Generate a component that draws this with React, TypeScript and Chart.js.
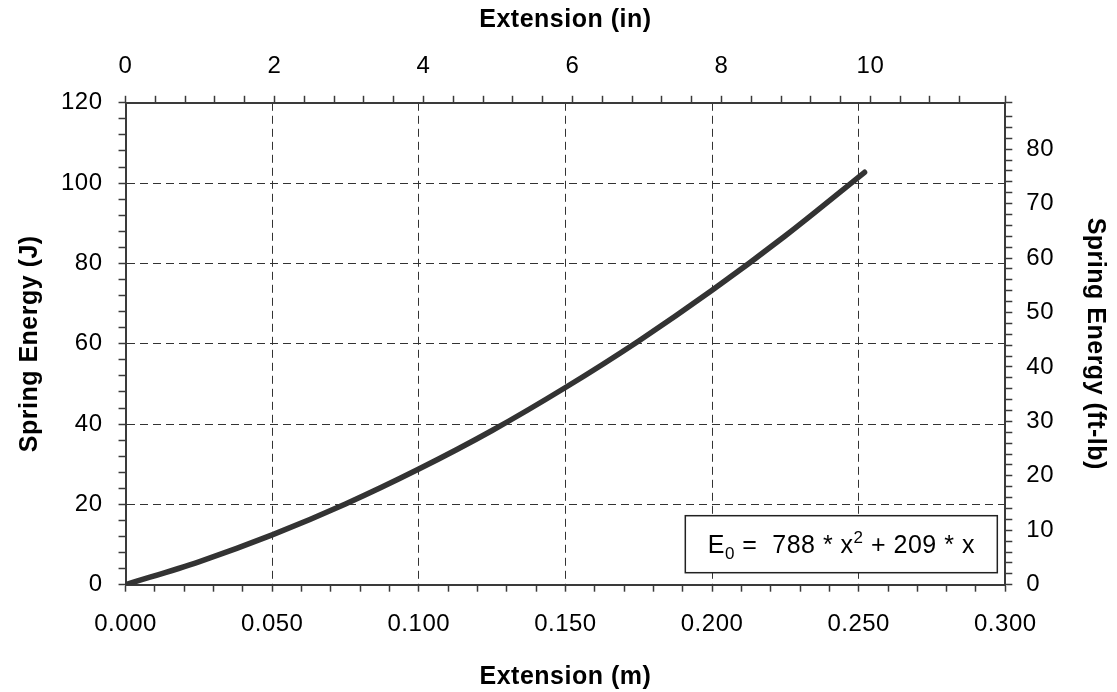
import React, { useEffect, useRef } from "react";
import { Chart, registerables } from "chart.js";

Chart.register(...registerables);

// Extension (m) sampled along the drawn curve
const extensionM = [0, 0.025, 0.05, 0.075, 0.1, 0.125, 0.15, 0.175, 0.2, 0.225, 0.252];
// Spring energy (J)
const energyJ = [0, 5.7, 12.4, 20.1, 28.8, 38.4, 49.1, 60.7, 73.3, 86.9, 102.7];

const xTitleBottom = "Extension (m)";
const xTitleTop = "Extension (in)";
const yTitleLeft = "Spring Energy (J)";
const yTitleRight = "Spring Energy (ft-lb)";
const eqParts = ["E", "0", " =  788 * x", "2", " + 209 * x"];

const X_MAX_M = 0.3;
const Y_MAX_J = 120;
const M_PER_IN = 0.0254;
const J_PER_FTLB = 1.35582;

const FONT = "'Liberation Sans', Arial, sans-serif";
const FS = 24;
const FS_TITLE = 25;
const FS_EQ = 25;
const SPACING = "0.5px";
const AXIS = "#3a3a3a";

const isMult = (v: number, s: number) => Math.abs(v / s - Math.round(v / s)) < 1e-6;

const spacingPlugin = {
  id: "spacing",
  beforeUpdate(chart: any) {
    chart.ctx.letterSpacing = SPACING;
  },
  beforeDraw(chart: any) {
    chart.ctx.letterSpacing = SPACING;
  },
};

const eqPlugin = {
  id: "eqBox",
  afterDraw(chart: any) {
    const { ctx, chartArea } = chart;
    const w = 312, h = 57;
    const right = chartArea.right - 8;
    const bottom = chartArea.bottom - 12;
    const left = right - w, top = bottom - h;
    ctx.save();
    ctx.letterSpacing = SPACING;
    ctx.fillStyle = "#fff";
    ctx.fillRect(left, top, w, h);
    ctx.strokeStyle = "#222";
    ctx.lineWidth = 1.5;
    ctx.strokeRect(left, top, w, h);
    const big = `${FS_EQ}px ${FONT}`;
    const small = `${Math.round(FS_EQ * 0.66)}px ${FONT}`;
    const fonts = [big, small, big, small, big];
    const offs = [0, 6, 0, -10, 0];
    let total = 0;
    const widths = eqParts.map((p, i) => {
      ctx.font = fonts[i];
      const m = ctx.measureText(p).width;
      total += m;
      return m;
    });
    let x = left + (w - total) / 2;
    const base = top + h / 2 + 9;
    ctx.fillStyle = "#000";
    ctx.textBaseline = "alphabetic";
    ctx.textAlign = "left";
    eqParts.forEach((p, i) => {
      ctx.font = fonts[i];
      ctx.fillText(p, x, base + offs[i]);
      x += widths[i];
    });
    ctx.restore();
  },
};

export default function App() {
  const ref = useRef<HTMLCanvasElement>(null);
  useEffect(() => {
    document.body.style.margin = "0";
    const canvas = ref.current!;
    const tickFont = { family: FONT, size: FS };
    const titleFont = { family: FONT, size: FS_TITLE, weight: "bold" as const };
    const chart = new Chart(canvas, {
      type: "line",
      data: {
        datasets: [
          {
            data: extensionM.map((x, i) => ({ x, y: energyJ[i] })),
            borderColor: "#333333",
            borderWidth: 5.5,
            borderCapStyle: "round",
            pointRadius: 0,
            cubicInterpolationMode: "monotone",
            xAxisID: "x",
            yAxisID: "y",
          },
        ],
      },
      options: {
        animation: false,
        responsive: false,
        plugins: { legend: { display: false }, tooltip: { enabled: false } },
        layout: { padding: 0 },
        scales: {
          x: {
            type: "linear",
            position: "bottom",
            min: 0,
            max: X_MAX_M,
            ticks: {
              stepSize: 0.01,
              autoSkip: false,
              maxRotation: 0,
              padding: 18,
              color: "#000",
              font: tickFont,
              callback: (v: any) => (isMult(Number(v), 0.05) ? Number(v).toFixed(3) : ""),
            },
            grid: {
              color: (c: any) => {
                const v = c.tick?.value ?? 0;
                return isMult(v, 0.05) && v > 0.001 && v < X_MAX_M - 0.001 ? "#333" : "rgba(0,0,0,0)";
              },
              lineWidth: 1,
              tickColor: AXIS,
              tickLength: 7,
              tickWidth: 1.5,
            },
            border: { color: AXIS, width: 2, dash: [8, 5] },
            title: { display: true, text: xTitleBottom, color: "#000", font: titleFont, padding: { top: 5.5, bottom: 0 } },
          },
          x2: {
            type: "linear",
            position: "top",
            min: 0,
            max: X_MAX_M / M_PER_IN,
            ticks: {
              stepSize: 0.4,
              autoSkip: false,
              maxRotation: 0,
              padding: 15,
              color: "#000",
              font: tickFont,
              callback: (v: any) => (isMult(Number(v), 2) ? String(Math.round(Number(v))) : ""),
            },
            grid: { drawOnChartArea: false, tickColor: AXIS, tickLength: 7, tickWidth: 1.5 },
            border: { color: AXIS, width: 2 },
            title: { display: true, text: xTitleTop, color: "#000", font: titleFont, padding: { top: 5, bottom: 2 } },
          },
          y: {
            type: "linear",
            position: "left",
            min: 0,
            max: Y_MAX_J,
            ticks: {
              stepSize: 4,
              autoSkip: false,
              padding: 16,
              color: "#000",
              font: tickFont,
              callback: (v: any) => (isMult(Number(v), 20) ? String(Math.round(Number(v))) : ""),
            },
            grid: {
              color: (c: any) => {
                const v = c.tick?.value ?? 0;
                return isMult(v, 20) && v > 0 && v < Y_MAX_J ? "#333" : "rgba(0,0,0,0)";
              },
              lineWidth: 1,
              tickColor: AXIS,
              tickLength: 7,
              tickWidth: 1.5,
            },
            border: { color: AXIS, width: 2, dash: [8, 5] },
            title: { display: true, text: yTitleLeft, color: "#000", font: titleFont, padding: { top: 15, bottom: 0 } },
          },
          y2: {
            type: "linear",
            position: "right",
            min: 0,
            max: Y_MAX_J / J_PER_FTLB,
            ticks: {
              stepSize: 2,
              autoSkip: false,
              padding: 14,
              color: "#000",
              font: tickFont,
              callback: (v: any) => (isMult(Number(v), 10) ? String(Math.round(Number(v))) : ""),
            },
            grid: { drawOnChartArea: false, tickColor: AXIS, tickLength: 7, tickWidth: 1.5 },
            border: { color: AXIS, width: 2 },
            title: { display: true, text: yTitleRight, color: "#000", font: titleFont, padding: { top: 7, bottom: 12 } },
          },
        },
      },
      plugins: [spacingPlugin, eqPlugin],
    } as any);
    return () => chart.destroy();
  }, []);
  return (
    <div style={{ width: 1117, height: 692 }}>
      <canvas ref={ref} width={1117} height={692} style={{ display: "block" }} />
    </div>
  );
}
